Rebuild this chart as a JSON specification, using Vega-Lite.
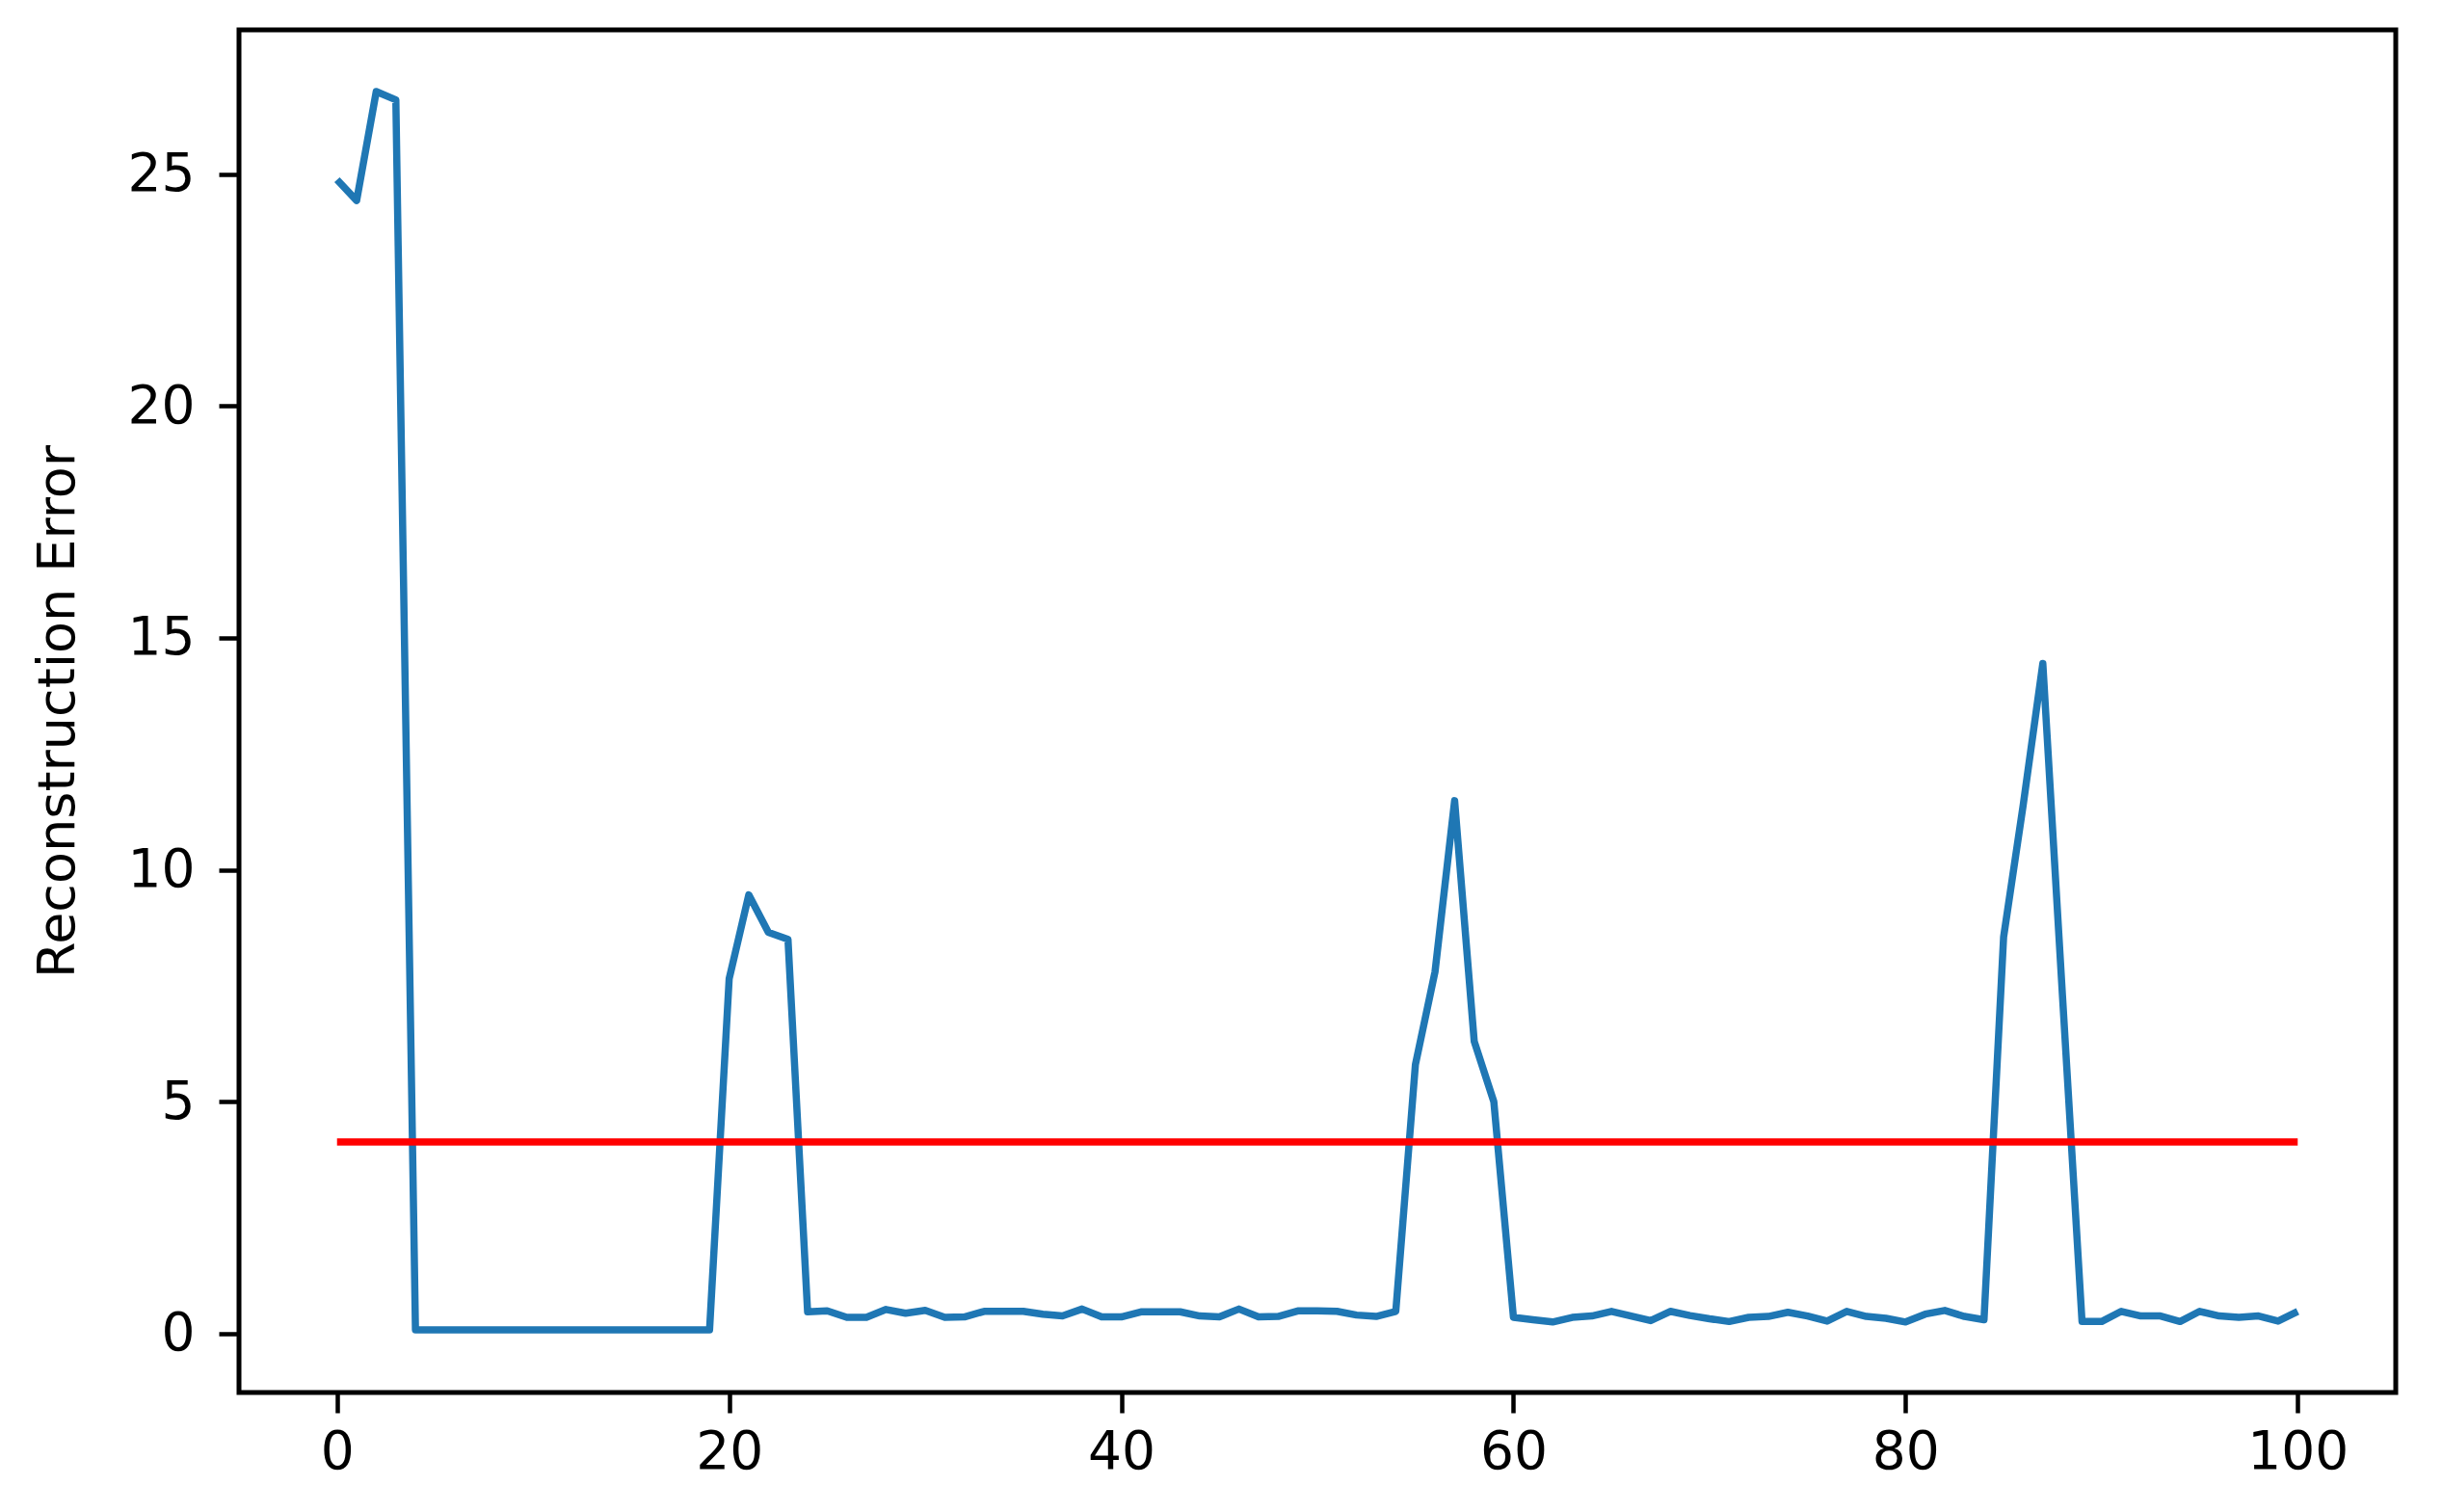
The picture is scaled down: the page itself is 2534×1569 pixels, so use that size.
{
  "$schema": "https://vega.github.io/schema/vega-lite/v6.json",
  "width": 2238,
  "height": 1414,
  "autosize": {"type": "none"},
  "padding": {"left": 248, "top": 31, "right": 48, "bottom": 124},
  "background": "white",
  "config": {
    "view": {"stroke": "black", "strokeWidth": 5},
    "axis": {
      "domain": false,
      "grid": false,
      "tickColor": "black",
      "tickWidth": 4.5,
      "tickSize": 21,
      "labelFont": "DejaVu Sans",
      "labelFontSize": 55,
      "labelColor": "black",
      "titleFont": "DejaVu Sans",
      "titleFontSize": 54,
      "titleFontWeight": "normal",
      "titleColor": "black"
    }
  },
  "datasets": {
    "errors": [
      {"x": 0, "error": 24.88}, {"x": 1, "error": 24.43}, {"x": 2, "error": 26.78}, {"x": 3, "error": 26.6},
      {"x": 4, "error": 0.08}, {"x": 5, "error": 0.08}, {"x": 6, "error": 0.08}, {"x": 7, "error": 0.08},
      {"x": 8, "error": 0.08}, {"x": 9, "error": 0.08}, {"x": 10, "error": 0.08}, {"x": 11, "error": 0.08},
      {"x": 12, "error": 0.08}, {"x": 13, "error": 0.08}, {"x": 14, "error": 0.08}, {"x": 15, "error": 0.08},
      {"x": 16, "error": 0.08}, {"x": 17, "error": 0.08}, {"x": 18, "error": 0.08}, {"x": 19, "error": 0.08},
      {"x": 20, "error": 7.65}, {"x": 21, "error": 9.46}, {"x": 22, "error": 8.65}, {"x": 23, "error": 8.5},
      {"x": 24, "error": 0.47}, {"x": 25, "error": 0.49}, {"x": 26, "error": 0.35}, {"x": 27, "error": 0.35},
      {"x": 28, "error": 0.52}, {"x": 29, "error": 0.44}, {"x": 30, "error": 0.5}, {"x": 31, "error": 0.35},
      {"x": 32, "error": 0.36}, {"x": 33, "error": 0.48}, {"x": 34, "error": 0.48}, {"x": 35, "error": 0.48},
      {"x": 36, "error": 0.42}, {"x": 37, "error": 0.38}, {"x": 38, "error": 0.53}, {"x": 39, "error": 0.36},
      {"x": 40, "error": 0.36}, {"x": 41, "error": 0.47}, {"x": 42, "error": 0.47}, {"x": 43, "error": 0.47},
      {"x": 44, "error": 0.38}, {"x": 45, "error": 0.36}, {"x": 46, "error": 0.53}, {"x": 47, "error": 0.36},
      {"x": 48, "error": 0.37}, {"x": 49, "error": 0.49}, {"x": 50, "error": 0.49}, {"x": 51, "error": 0.48},
      {"x": 52, "error": 0.4}, {"x": 53, "error": 0.37}, {"x": 54, "error": 0.48}, {"x": 55, "error": 5.8},
      {"x": 56, "error": 7.8}, {"x": 57, "error": 11.49}, {"x": 58, "error": 6.3}, {"x": 59, "error": 5.0},
      {"x": 60, "error": 0.35}, {"x": 61, "error": 0.3}, {"x": 62, "error": 0.25}, {"x": 63, "error": 0.35},
      {"x": 64, "error": 0.38}, {"x": 65, "error": 0.48}, {"x": 66, "error": 0.38}, {"x": 67, "error": 0.28},
      {"x": 68, "error": 0.48}, {"x": 69, "error": 0.39}, {"x": 70, "error": 0.32}, {"x": 71, "error": 0.26},
      {"x": 72, "error": 0.35}, {"x": 73, "error": 0.37}, {"x": 74, "error": 0.46}, {"x": 75, "error": 0.38},
      {"x": 76, "error": 0.27}, {"x": 77, "error": 0.48}, {"x": 78, "error": 0.37}, {"x": 79, "error": 0.33},
      {"x": 80, "error": 0.25}, {"x": 81, "error": 0.42}, {"x": 82, "error": 0.5}, {"x": 83, "error": 0.37},
      {"x": 84, "error": 0.3}, {"x": 85, "error": 8.55}, {"x": 86, "error": 11.4}, {"x": 87, "error": 14.45},
      {"x": 88, "error": 7.3}, {"x": 89, "error": 0.26}, {"x": 90, "error": 0.26}, {"x": 91, "error": 0.48},
      {"x": 92, "error": 0.38}, {"x": 93, "error": 0.38}, {"x": 94, "error": 0.26}, {"x": 95, "error": 0.48},
      {"x": 96, "error": 0.38}, {"x": 97, "error": 0.35}, {"x": 98, "error": 0.38}, {"x": 99, "error": 0.27},
      {"x": 100, "error": 0.48}
    ],
    "threshold": [
      {"x": 0, "error": 4.13},
      {"x": 100, "error": 4.13}
    ]
  },
  "layer": [
    {
      "data": {"name": "errors"},
      "mark": {"type": "line", "color": "#1f77b4", "strokeWidth": 7.5, "strokeJoin": "round", "strokeCap": "butt"},
      "encoding": {
        "x": {
          "field": "x", "type": "quantitative",
          "scale": {"domain": [-5, 105], "nice": false, "zero": false},
          "axis": {"values": [0, 20, 40, 60, 80, 100], "title": null, "labelPadding": 14, "labelFlush": false, "labelOverlap": false}
        },
        "y": {
          "field": "error", "type": "quantitative",
          "scale": {"domain": [-1.27, 28.11], "nice": false, "zero": false},
          "axis": {
            "values": [0, 5, 10, 15, 20, 25],
            "title": "Reconstruction Error",
            "labelPadding": 25,
            "labelFlush": false,
            "titleX": -172,
            "titleY": 707,
            "titleAngle": -90,
            "titleAlign": "center",
            "titleBaseline": "alphabetic"
          }
        }
      }
    },
    {
      "data": {"name": "threshold"},
      "mark": {"type": "line", "color": "#ff0000", "strokeWidth": 7.5, "strokeCap": "butt"},
      "encoding": {
        "x": {"field": "x", "type": "quantitative"},
        "y": {"field": "error", "type": "quantitative"}
      }
    }
  ]
}
